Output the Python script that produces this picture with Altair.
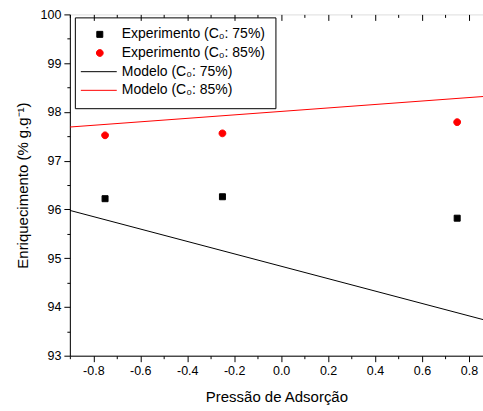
import altair as alt
import pandas as pd

# ---------------- data ----------------
series_labels = ["Experimento (C₀: 75%)", "Experimento (C₀: 85%)",
                 "Modelo (C₀: 75%)", "Modelo (C₀: 85%)"]
series_colors = ["#000000", "#ff0000", "#000000", "#ff0000"]

pressure = [-0.75, -0.25, 0.75]
exp_75 = [96.22, 96.26, 95.82]
exp_85 = [97.52, 97.56, 97.79]

model_x = [-0.9, 0.9]
model_75 = [95.98, 93.69]
model_85 = [97.69, 98.33]

x_major_ticks = [-0.8, -0.6, -0.4, -0.2, 0.0, 0.2, 0.4, 0.6, 0.8]
x_minor_ticks = [-0.9, -0.7, -0.5, -0.3, -0.1, 0.1, 0.3, 0.5, 0.7]
y_major_ticks = [93, 94, 95, 96, 97, 98, 99, 100]
y_minor_ticks = [93.5, 94.5, 95.5, 96.5, 97.5, 98.5, 99.5]

x_domain = [-0.9, 0.86]
y_domain = [93, 100]

# symbol shapes (unit-space paths, drawn at symbol size 100)
SQUARE = "M-0.6,-0.6H0.6V0.6H-0.6Z"
CIRCLE = "M0.68,0A0.68,0.68,0,1,1,-0.68,0A0.68,0.68,0,1,1,0.68,0Z"
LINE = "M-3.8,0H3.4"
series_shapes = [SQUARE, CIRCLE, LINE, LINE]

# ---------------- tables ----------------
p75 = pd.DataFrame({"x": pressure, "y": exp_75, "series": [series_labels[0]] * len(pressure)})
p85 = pd.DataFrame({"x": pressure, "y": exp_85, "series": [series_labels[1]] * len(pressure)})
l75 = pd.DataFrame({"x": model_x, "y": model_75, "series": [series_labels[2]] * len(model_x)})
l85 = pd.DataFrame({"x": model_x, "y": model_85, "series": [series_labels[3]] * len(model_x)})

FONT = "Liberation Sans"

xscale = alt.Scale(domain=x_domain, nice=False, zero=False)
yscale = alt.Scale(domain=y_domain, nice=False, zero=False)
color_scale = alt.Scale(domain=series_labels, range=series_colors)
shape_scale = alt.Scale(domain=series_labels, range=series_shapes)

legend = alt.Legend(
    title=None, orient="none", legendX=5, legendY=3,
    strokeColor="black", padding=10, labelFont=FONT, labelFontSize=14,
    labelColor="black", labelLimit=0, labelOffset=15, rowPadding=4.7,
    symbolStrokeWidth=1, symbolSize=100, symbolOffset=8,
)

common = dict(grid=False, tickColor="black", tickWidth=1, tickOpacity=1, ticks=True)

bottom_major = alt.Axis(
    orient="bottom", values=x_major_ticks, tickSize=6,
    labelExpr="replace(format(datum.value, '.1f'), '\u2212', '-')",
    title="Pressão de Adsorção", titleFont=FONT, titleFontSize=15,
    titleFontWeight="normal", titleColor="black", titlePadding=12,
    labelFont=FONT, labelFontSize=12.5, labelColor="black", labelPadding=3,
    labelFlush=False, domainColor="black", domainWidth=1, **common,
)
bottom_minor = alt.Axis(
    orient="bottom", values=x_minor_ticks, tickSize=3, labels=False, title=None,
    domain=False, **common,
)
left_major = alt.Axis(
    orient="left", values=y_major_ticks, tickSize=6, format="d",
    title="Enriquecimento (% g.g⁻¹)", titleFont=FONT, titleFontSize=15,
    titleFontWeight="normal", titleColor="black", titlePadding=10,
    labelFont=FONT, labelFontSize=12.5, labelColor="black", labelPadding=3,
    labelFlush=False, domainColor="black", domainWidth=1, **common,
)
left_minor = alt.Axis(
    orient="left", values=y_minor_ticks, tickSize=3, labels=False, title=None,
    domain=False, **common,
)
top_major = alt.Axis(
    orient="top", values=x_major_ticks, tickSize=6, offset=-6, labels=False, title=None,
    domain=False, **common,
)
top_minor = alt.Axis(
    orient="top", values=x_minor_ticks, tickSize=3, offset=-3, labels=False, title=None,
    domain=False, **common,
)


def point_layer(df, xaxis, yaxis):
    return alt.Chart(df).mark_point(filled=False, opacity=1, strokeWidth=1, size=100).encode(
        x=alt.X("x:Q", scale=xscale, axis=xaxis),
        y=alt.Y("y:Q", scale=yscale, axis=yaxis),
        color=alt.Color("series:N", scale=color_scale, legend=legend),
        fill=alt.Fill("series:N", scale=color_scale, legend=legend),
        shape=alt.Shape("series:N", scale=shape_scale, legend=legend),
    )


def line_layer(df, xaxis):
    return alt.Chart(df).mark_line(clip=True, strokeWidth=1).encode(
        x=alt.X("x:Q", scale=xscale, axis=xaxis),
        y=alt.Y("y:Q", scale=yscale, axis=None),
        color=alt.Color("series:N", scale=color_scale, legend=legend),
    )


chart = alt.layer(
    line_layer(l75, top_major),
    line_layer(l85, top_minor),
    point_layer(p75, bottom_major, left_major),
    point_layer(p85, bottom_minor, left_minor),
).resolve_axis(x="independent", y="independent").properties(
    width=414, height=342,
    autosize=alt.AutoSizeParams(type="none"),
    padding={"left": 70, "top": 14, "right": 0, "bottom": 55},
    background="white",
).configure_view(stroke="black", strokeWidth=1).configure(font=FONT)

chart.save("out.html", embed_options={"renderer": "svg", "actions": False})
